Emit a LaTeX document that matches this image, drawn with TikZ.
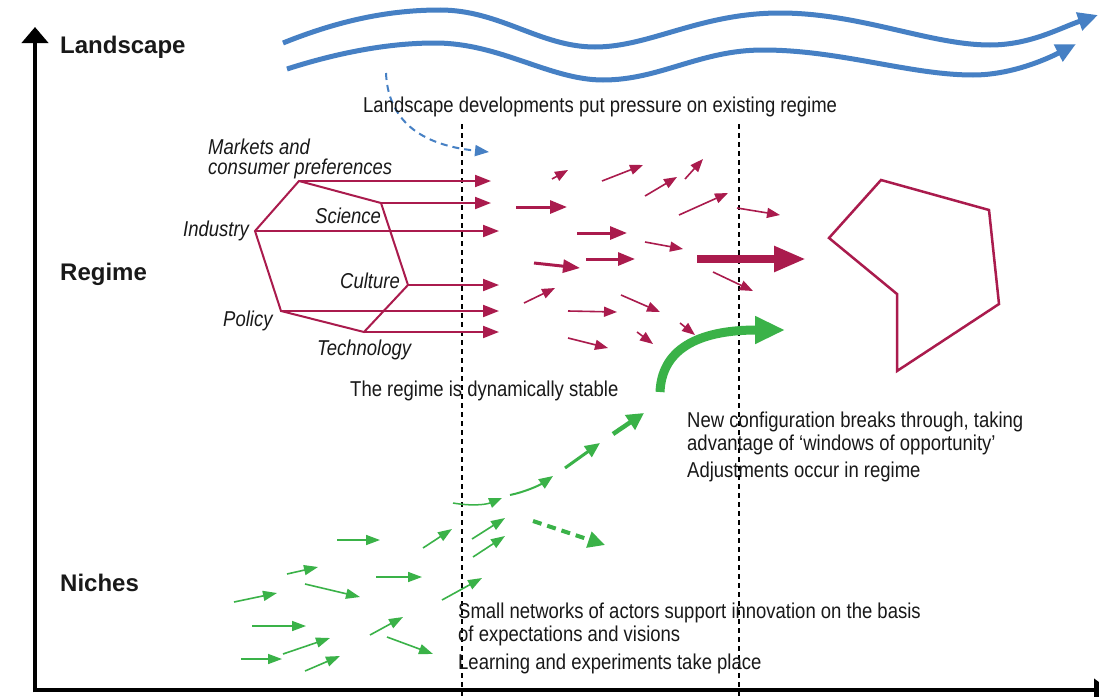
\documentclass[tikz,border=0pt]{standalone}
\usepackage{fontspec}
\setmainfont{Liberation Sans}
\newfontfamily\nf[FakeStretch=0.86]{Liberation Sans}
\usetikzlibrary{arrows.meta}
\definecolor{crim}{RGB}{170,27,77}
\definecolor{wblue}{RGB}{70,128,196}
\definecolor{grn}{RGB}{58,178,72}
\definecolor{ink}{RGB}{25,25,25}
\tikzset{
  lvl/.style={font=\fontsize{24}{24}\selectfont\bfseries, text=ink, anchor=base west, inner sep=0pt},
  txt/.style={font=\nf\fontsize{21.5}{22}\selectfont, text=ink, anchor=base west, inner sep=0pt},
  itx/.style={font=\nf\itshape\fontsize{21.5}{22}\selectfont, text=ink, anchor=base west, inner sep=0pt},
  axis/.style={draw=black, line width=4.5pt},
  vdash/.style={draw=black, line width=1.2pt, dash pattern=on 5pt off 4pt},
  wave/.style={draw=wblue, line width=5pt, -{Triangle[length=20pt,width=18pt]}},
  hexarr/.style={draw=crim, line width=2pt, -{Triangle[length=16pt,width=12pt]}},
  crimthin/.style={draw=crim, line width=1.6pt, -{Triangle[length=13pt,width=10pt]}},
  crimthick/.style={draw=crim, line width=3pt, -{Triangle[length=17pt,width=13pt]}},
  gthin/.style={draw=grn, line width=1.6pt, -{Triangle[length=14pt,width=10pt]}},
}
\begin{document}
\begin{tikzpicture}[x=1pt,y=-1pt]
\useasboundingbox (0,0) rectangle (1099,696);
\fill[white] (0,0) rectangle (1099,696);

% axes
\coordinate (ytop) at (35,27);
\coordinate (xend) at (1110,690);
\draw[axis, -{Triangle[length=16pt,width=26pt]}] (35,692.25) -- (ytop);
\draw[axis, -{Triangle[length=16pt,width=22pt]}] (32.75,690) -- (xend);

% level labels
\node[lvl] (land) at (60,53) {Landscape};
\node[lvl] (reg) at (60,280) {Regime};
\node[lvl] (nich) at (60,591) {Niches};

% vertical dashed lines
\draw[vdash] (462,124) -- (462,696);
\draw[vdash] (739,124) -- (739,696);

% landscape waves
\draw[wave] (283,43) .. controls (340,20) and (390,10) .. (440,10)
  .. controls (500,10) and (540,47) .. (595,47)
  .. controls (650,47) and (700,13) .. (780,13)
  .. controls (860,13) and (930,45) .. (990,45)
  .. controls (1030,45) and (1060,28) .. (1098,15);
\draw[wave] (287,69) .. controls (340,52) and (390,43) .. (435,43)
  .. controls (500,43) and (550,80) .. (603,80)
  .. controls (660,80) and (700,50) .. (763,50)
  .. controls (840,50) and (910,75) .. (973,75)
  .. controls (1010,75) and (1045,60) .. (1076,44);
\coordinate (bs) at (386,73);
\coordinate (be) at (489,152);
\draw[draw=wblue, line width=2pt, dash pattern=on 7pt off 5pt, -{Triangle[length=14pt,width=11pt]}]
  (bs) .. controls (388,120) and (420,145) .. (be);
\node[txt] (landtxt) at (363,112) {Landscape developments put pressure on existing regime};

% regime hexagon
\coordinate (hT) at (299,181);
\coordinate (hS) at (381,203);
\coordinate (hC) at (408,285);
\coordinate (hTe) at (364,332);
\coordinate (hP) at (281,311);
\coordinate (hI) at (255,231);
\draw[crim, line width=2pt, line join=miter] (hT) -- (hS) -- (hC) -- (hTe) -- (hP) -- (hI) -- cycle;
\coordinate (eT) at (491,181);
\coordinate (eS) at (491,203);
\coordinate (eI) at (499,231);
\coordinate (eC) at (499,285);
\coordinate (eP) at (499,311);
\coordinate (eTe) at (499,332);
\draw[hexarr] (hT) -- (eT);
\draw[hexarr] (hS) -- (eS);
\draw[hexarr] (hI) -- (eI);
\draw[hexarr] (hC) -- (eC);
\draw[hexarr] (hP) -- (eP);
\draw[hexarr] (hTe) -- (eTe);

\node[itx] (mk1) at (208,154) {Markets and};
\node[itx] (mk2) at (208,174) {consumer preferences};
\node[itx] (sci) at (315,223) {Science};
\node[itx] (ind) at (183,236) {Industry};
\node[itx] (cul) at (340,288) {Culture};
\node[itx] (pol) at (223,326) {Policy};
\node[itx] (tec) at (317,355) {Technology};

% scattered regime arrows
\draw[crimthin] (552,179) -- (568,170);
\draw[crimthin] (602,181) -- (643,165);
\draw[crimthin] (645,196) -- (677,177);
\draw[crimthin] (685,179) -- (703,159);
\draw[crimthick] (516,207) -- (567,207);
\draw[crimthin] (679,215) -- (728,193);
\draw[crimthin] (737,208) -- (780,215);
\draw[crimthick] (577,233) -- (627,233);
\draw[crimthin] (645,242) -- (683,249);
\draw[crimthick] (586,259) -- (635,259);
\draw[crimthick] (534,263) -- (580,268);
\draw[draw=crim, line width=8pt, -{Triangle[length=32pt,width=24pt]}] (697,259) -- (806,259);
\draw[crimthin] (713,272) -- (753,291);
\draw[crimthin] (524,303) -- (555,288);
\draw[crimthin] (568,311) -- (617,312);
\draw[crimthin] (621,295) -- (660,312);
\draw[crimthin] (680,323) -- (695,335);
\draw[crimthin] (568,338) -- (608,348);
\draw[crimthin] (637,332) -- (653,344);

% new regime polygon
\draw[crim, line width=2.5pt, line join=miter] (881,180) -- (989,210) -- (999,304) -- (897,371) -- (897,294) -- (829,238) -- cycle;

% breakthrough arrow
\draw[draw=grn, line width=9pt, -{Triangle[length=30pt,width=26pt]}] (660,392) .. controls (662,345) and (705,330) .. (785,330);

\node[txt] (stab) at (350,396) {The regime is dynamically stable};
\node[txt] (nc1) at (687,427) {New configuration breaks through, taking};
\node[txt] (nc2) at (687,450) {advantage of ‘windows of opportunity’};
\node[txt] (adj) at (687,477) {Adjustments occur in regime};

% niche path arrows
\draw[draw=grn, line width=1.5pt, -{Triangle[length=13pt,width=10pt]}] (453,503) .. controls (470,506) and (485,505) .. (502,498);
\draw[draw=grn, line width=2pt, -{Triangle[length=14pt,width=11pt]}] (510,495) .. controls (525,492) and (540,485) .. (553,476);
\draw[draw=grn, line width=3pt, -{Triangle[length=15pt,width=13pt]}] (565,468) -- (600,443);
\draw[draw=grn, line width=4.5pt, -{Triangle[length=17pt,width=17pt]}] (613,434) -- (644,413);
\draw[draw=grn, line width=4pt, dash pattern=on 9pt off 6pt, -{Triangle[length=17pt,width=16pt]}] (533,521) -- (605,545);

% niche small arrows
\draw[gthin] (337,540) -- (380,540);
\draw[gthin] (287,574) -- (318,567);
\draw[gthin] (305,584) -- (360,597);
\draw[gthin] (234,602) -- (277,593);
\draw[gthin] (376,577) -- (422,577);
\draw[gthin] (423,548) -- (452,529);
\draw[gthin] (472,539) -- (505,518);
\draw[gthin] (473,557) -- (505,536);
\draw[gthin] (442,600) -- (482,578);
\draw[gthin] (252,626) -- (306,626);
\draw[gthin] (370,635) -- (403,617);
\draw[gthin] (387,637) -- (433,654);
\draw[gthin] (283,654) -- (330,638);
\draw[gthin] (241,659) -- (282,659);
\draw[gthin] (305,671) -- (340,656);

\node[txt] (sn1) at (458,618) {Small networks of actors support innovation on the basis};
\node[txt] (sn2) at (458,641) {of expectations and visions};
\node[txt] (lrn) at (458,669) {Learning and experiments take place};
\end{tikzpicture}
\end{document}
